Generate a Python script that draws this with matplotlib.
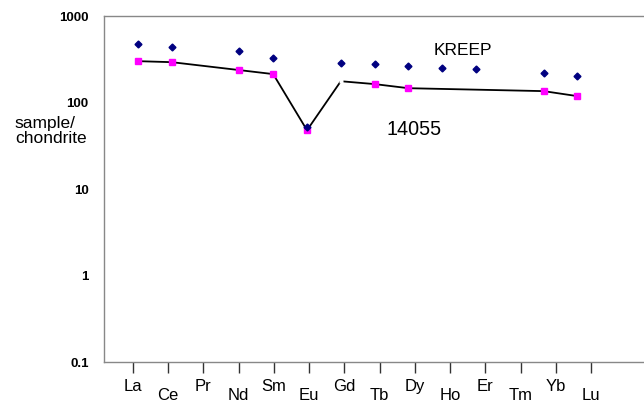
import numpy as np
import matplotlib.pyplot as plt

elements = ['La', 'Ce', 'Pr', 'Nd', 'Sm', 'Eu', 'Gd', 'Tb', 'Dy', 'Ho', 'Er', 'Tm', 'Yb', 'Lu']

# KREEP (no Pr, Tm)
kreep_x = [0, 1, 3, 4, 5, 6, 7, 8, 9, 10, 12, 13]
kreep_y = [475, 438, 394, 327, 53, 286, 279, 264, 250, 244, 219, 202]

# sample 14055 (Gd only on the line, no marker)
s14055_x = [0, 1, 3, 4, 5, 6, 7, 8, 12, 13]
s14055_y = [302, 294, 238, 214, 48, 177, 164, 147, 136, 119]
s14055_marked = [0, 1, 2, 3, 4, 6, 7, 8, 9]

plt.rcParams['font.family'] = ['Liberation Sans', 'DejaVu Sans']

fig = plt.figure(figsize=(6.44, 4.05), dpi=100)
ax = fig.add_axes([0.1615, 0.106, 0.8385, 0.854])

ax.plot(s14055_x, s14055_y, color='black', lw=1.3, zorder=2)
# small break in the line at Gd
ax.plot(s14055_x[5], s14055_y[5], marker='s', ms=3, color='white', mec='none', ls='none', zorder=3)
ax.plot([s14055_x[i] for i in s14055_marked], [s14055_y[i] for i in s14055_marked],
        marker='s', ms=5, color='#FF00FF', mec='#FF00FF', ls='none', zorder=4)
ax.plot(kreep_x, kreep_y, marker='D', ms=3.5, color='#000080', mec='#000080', ls='none', zorder=5)

ax.set_yscale('log')
ax.set_ylim(0.1, 1000)
ax.set_xlim(-1.006, 14.97)

ax.set_yticks([0.1, 1, 10, 100, 1000])
ax.set_yticklabels(['0.1', '1', '10', '100', '1000'], fontsize=9.5, fontweight='bold')
ax.yaxis.set_minor_locator(plt.NullLocator())
ax.tick_params(axis='y', length=0, pad=11)

tick_pos = -0.148 + 1.0423 * np.arange(len(elements))
ax.set_xticks(tick_pos)
ax.set_xticklabels(elements, fontsize=12)
ax.tick_params(axis='x', length=8, width=1, color='#333333', direction='out', pad=4)
for lab in ax.get_xticklabels()[1::2]:
    lab.set_y(-0.026)

for side in ['left', 'top', 'bottom']:
    ax.spines[side].set_color('#888888')
    ax.spines[side].set_linewidth(1)
ax.spines['right'].set_visible(False)

fig.text(0.023, 0.677, 'sample/\nchondrite', fontsize=12.5, ha='left', va='center', linespacing=1.05)
ax.text(9.62, 405, 'KREEP', fontsize=12.5, ha='center', va='center')
ax.text(8.17, 49.4, '14055', fontsize=14.2, ha='center', va='center')

fig.savefig('out.png', dpi=100)
